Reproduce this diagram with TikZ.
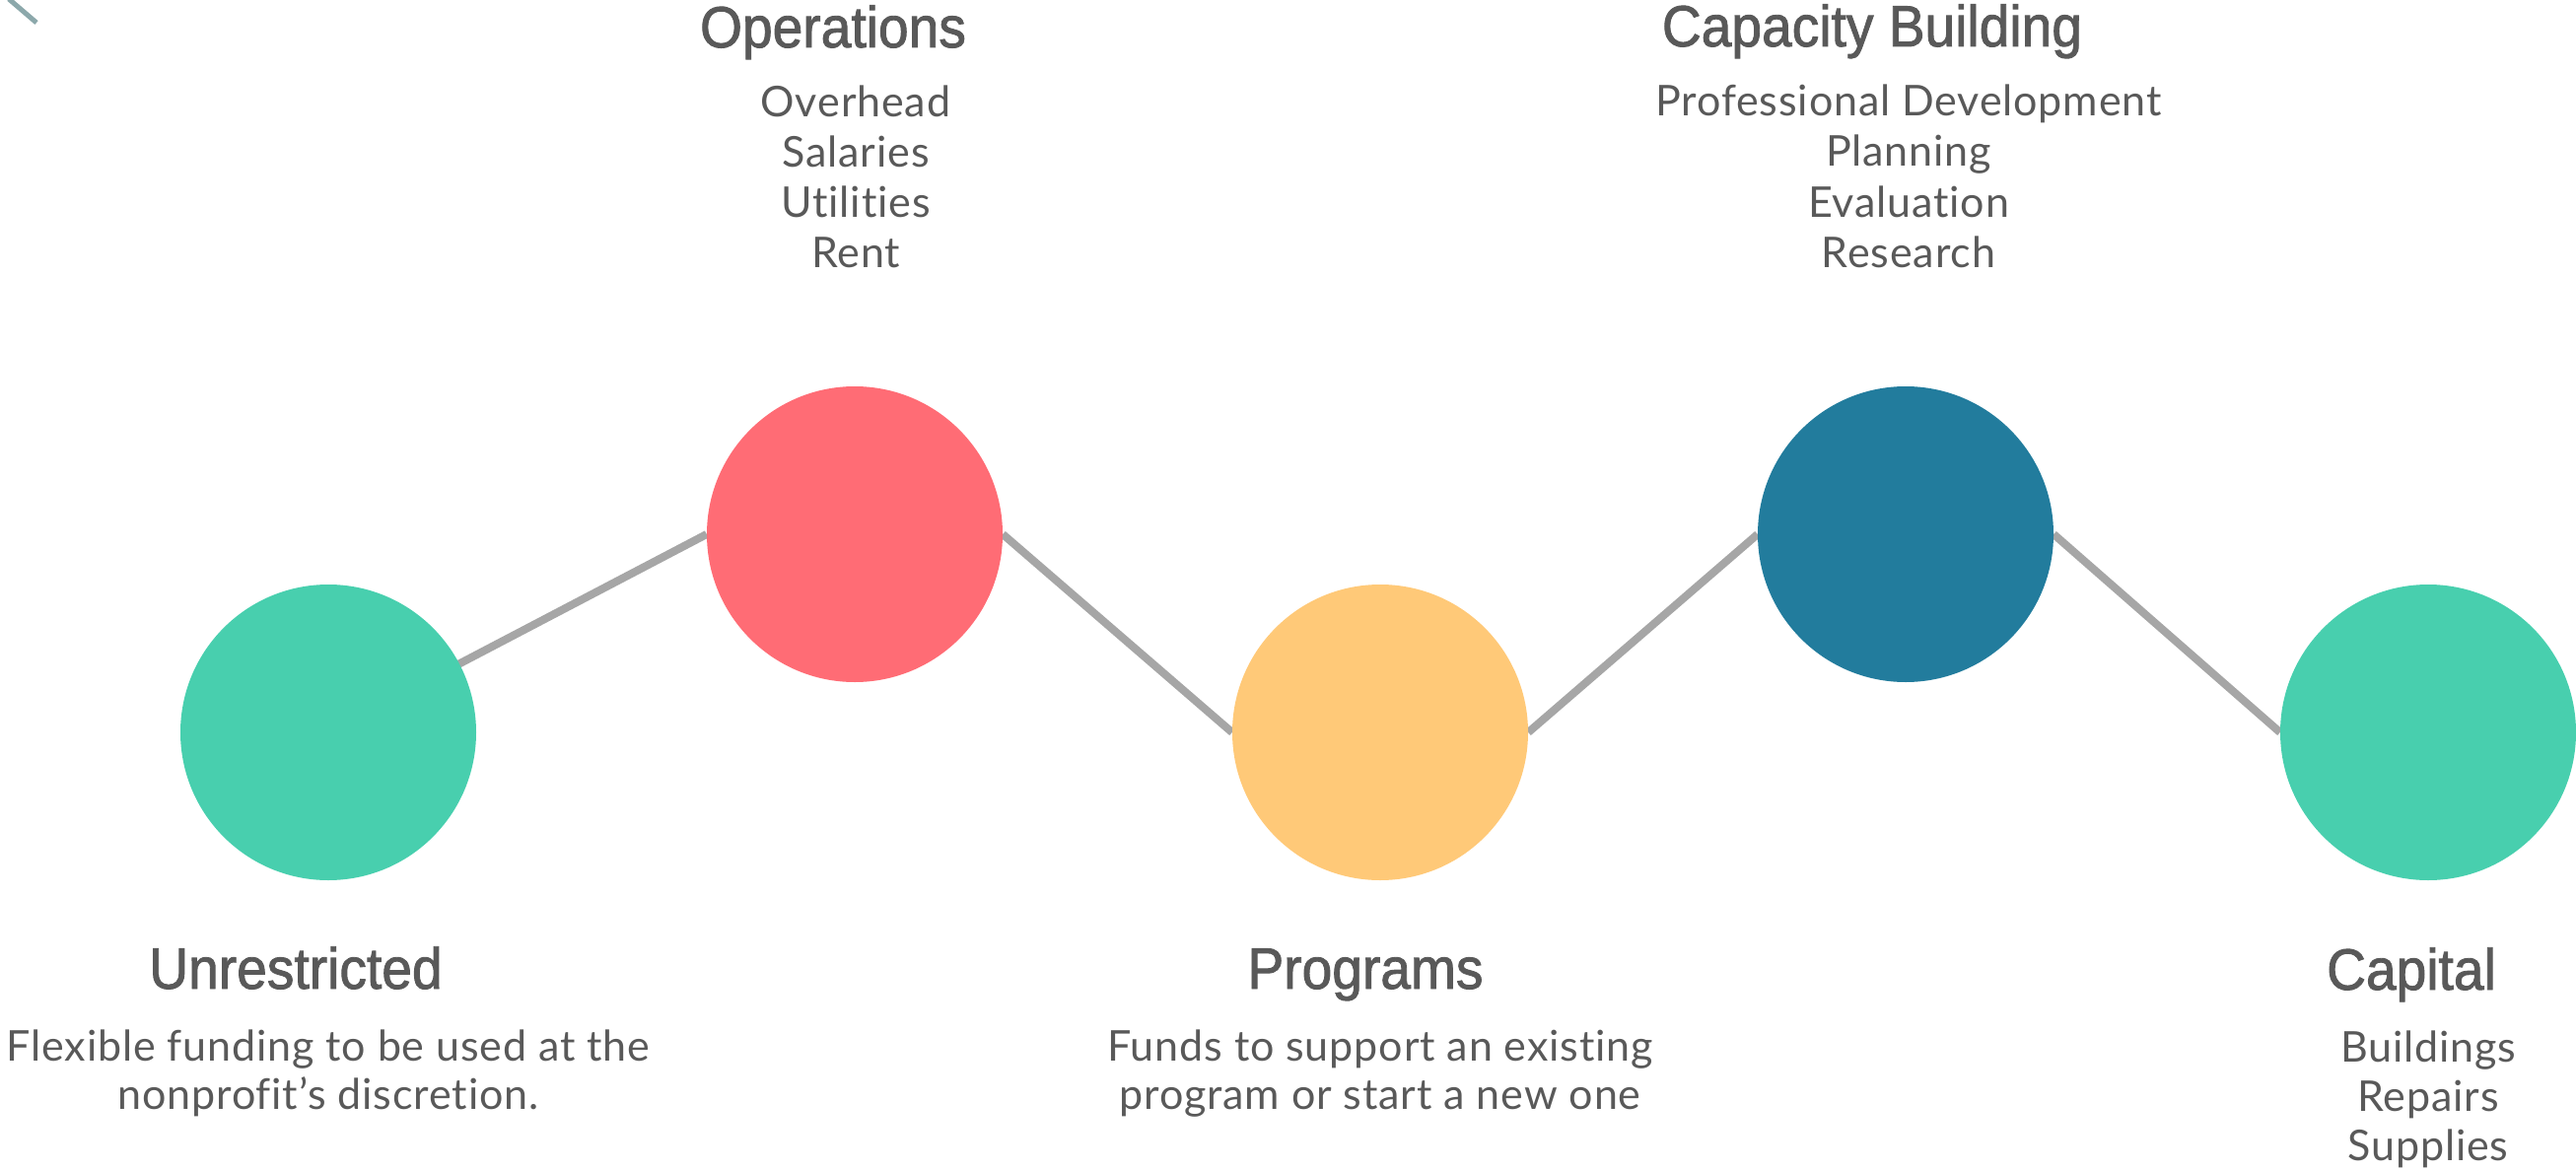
\documentclass[tikz,border=0pt]{standalone}
\usepackage{fontspec}
\setmainfont{Lato}[Ligatures=NoCommon,LetterSpace=2.0]
\newfontfamily\headfont{Liberation Sans}[FakeStretch=0.935,FakeBold=1.5]
\usetikzlibrary{backgrounds}
\definecolor{txt}{HTML}{595959}
\definecolor{cteal}{HTML}{48CFAE}
\definecolor{cred}{HTML}{FF6C75}
\definecolor{cyel}{HTML}{FFC978}
\definecolor{cblue}{HTML}{227C9D}
\definecolor{cline}{HTML}{A6A6A6}
\definecolor{cmark}{HTML}{8CA8AB}
\begin{document}
\begin{tikzpicture}[x=1pt,y=-1pt,
  dot/.style={circle, minimum size=300pt, inner sep=0pt, draw=none},
  link/.style={line width=8pt, draw=cline},
  head/.style={anchor=base, inner sep=0pt, font=\headfont\fontsize{59}{70}\selectfont, text=txt},
  body/.style={anchor=base, inner sep=0pt, font=\fontsize{43}{50}\selectfont, text=txt}]
\useasboundingbox (0,0) rectangle (2613,1188);
\draw[cmark, line width=5pt] (9,-1) -- (37,23);
\node[dot, fill=cteal] (c1) at (333,743) {};
\node[dot, fill=cred]  (c2) at (867,542) {};
\node[dot, fill=cyel]  (c3) at (1400,743) {};
\node[dot, fill=cblue] (c4) at (1933,542) {};
\node[dot, fill=cteal] (c5) at (2463,743) {};
\begin{pgfonlayer}{background}
\draw[link] (c1.center) -- (c2.west);
\draw[link] (c2.east) -- (c3.west);
\draw[link] (c3.east) -- (c4.west);
\draw[link] (c4.east) -- (c5.west);
\end{pgfonlayer}
\node[head] (h1) at (300,1003) {Unrestricted};
\node[head] (h2) at (845,48) {Operations};
\node[head] (h3) at (1385,1003) {Programs};
\node[head] (h4) at (1899,47) {Capacity Building};
\node[head] (h5) at (2446,1004) {Capital};
\node[body] (u1) at (333,1076) {Flexible funding to be used at the};
\node[body] (u2) at (333,1125) {nonprofit’s discretion.};
\node[body] (o1) at (868,119) {Overhead};
\node[body] (o2) at (868,169) {Salaries};
\node[body] (o3) at (868,220) {Utilities};
\node[body] (o4) at (868,271) {Rent};
\node[body] (p1) at (1400,1076) {Funds to support an existing};
\node[body] (p2) at (1400,1125) {program or start a new one};
\node[body] (b1) at (1936,118) {Professional Development};
\node[body] (b2) at (1936,168) {Planning};
\node[body] (b3) at (1936,220) {Evaluation};
\node[body] (b4) at (1936,271) {Research};
\node[body] (k1) at (2463,1077) {Buildings};
\node[body] (k2) at (2463,1127) {Repairs};
\node[body] (k3) at (2463,1177) {Supplies};
\end{tikzpicture}
\end{document}
